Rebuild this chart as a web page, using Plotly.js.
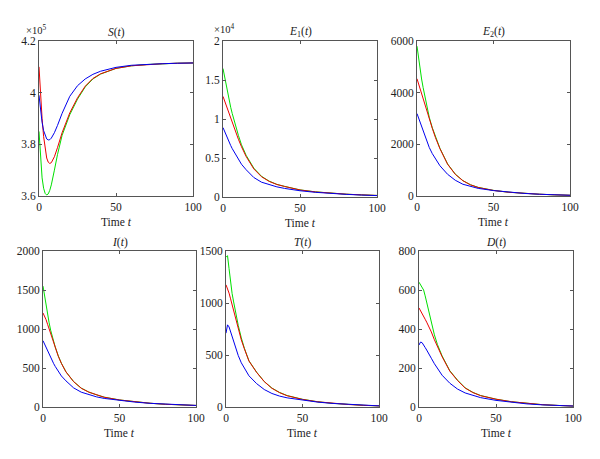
<!DOCTYPE html>
<html>
<head>
<meta charset="utf-8">
<script src="https://cdn.plot.ly/plotly-3.0.1.min.js"></script>
<style>html,body{margin:0;padding:0;background:#fff;}#chart{width:600px;height:459px;}</style>
</head>
<body>
<div id="chart"></div>
<script>
// Shared time grid
var time = [0,1,2,3,4,5,6,7,8,10,12,15,20,25,30,35,40,50,60,70,80,90,100];

// S(t) in units of 1e5
var S_green = [3.85,3.74,3.67,3.63,3.61,3.604,3.608,3.622,3.643,3.70,3.76,3.835,3.915,3.975,4.022,4.053,4.072,4.094,4.104,4.109,4.112,4.114,4.115];
var S_red   = [4.10,3.99,3.90,3.83,3.78,3.747,3.731,3.726,3.729,3.752,3.787,3.845,3.922,3.98,4.025,4.055,4.073,4.094,4.104,4.109,4.112,4.114,4.115];
var S_blue  = [3.99,3.93,3.885,3.853,3.832,3.821,3.817,3.818,3.824,3.845,3.873,3.92,3.986,4.027,4.053,4.071,4.083,4.098,4.106,4.110,4.112,4.114,4.115];

// E1(t) in units of 1e4
var E1_green = [1.647,1.54,1.43,1.33,1.24,1.15,1.07,0.99,0.92,0.79,0.67,0.535,0.37,0.265,0.203,0.162,0.136,0.091,0.066,0.048,0.036,0.027,0.02];
var E1_red   = [1.29,1.235,1.18,1.115,1.05,0.995,0.94,0.89,0.84,0.74,0.645,0.52,0.36,0.26,0.20,0.16,0.135,0.09,0.065,0.048,0.036,0.027,0.02];
var E1_blue  = [0.89,0.84,0.79,0.745,0.70,0.66,0.62,0.585,0.55,0.48,0.42,0.35,0.25,0.19,0.155,0.13,0.11,0.08,0.06,0.045,0.034,0.025,0.018];

// E2(t)
var E2_green = [5800,5330,4900,4530,4200,3880,3580,3300,3050,2640,2290,1845,1240,848,595,434,333,217,146,100,68,45,28];
var E2_red   = [4540,4340,4150,3970,3800,3610,3420,3210,3000,2620,2270,1830,1230,840,590,430,330,215,145,100,68,45,28];
var E2_blue  = [3190,3020,2850,2670,2500,2330,2170,2020,1880,1640,1430,1170,840,610,455,360,295,210,145,100,68,45,28];

// I(t)
var I_green = [1550,1420,1300,1185,1080,985,900,830,768,655,562,452,326,242,191,156,126,90,65,48,35,26,20];
var I_red   = [1205,1165,1120,1060,1000,940,880,820,760,650,560,450,325,240,190,155,125,90,65,48,35,26,20];
var I_blue  = [850,805,760,715,670,630,590,555,520,450,398,335,245,190,155,130,110,85,63,47,35,26,20];

// T(t)
var T_green = [1440,1455,1330,1200,1090,1010,930,855,785,665,565,444,335,245,182,140,110,74,50,35,24,16,11];
var T_red   = [1175,1140,1095,1040,980,920,860,800,745,645,560,442,333,244,180,138,108,73,50,35,24,16,11];
var T_blue  = [710,790,770,725,675,625,580,535,495,425,370,300,225,168,130,105,88,66,47,34,24,16,11];

// D(t)
var D_green = [640,628,618,600,570,535,500,465,430,370,320,262,186,138,98,75,59,40,27,18,12,8,5];
var D_red   = [508,495,480,465,450,435,420,402,385,345,310,258,184,136,97,74,58,40,27,18,12,8,5];
var D_blue  = [318,333,330,320,305,292,280,265,250,222,196,163,122,92,72,58,48,34,24,16,11,7,5];

var panelTitles = ['<i>S</i>(<i>t</i>)','<i>E</i><sub>1</sub>(<i>t</i>)','<i>E</i><sub>2</sub>(<i>t</i>)','<i>I</i>(<i>t</i>)','<i>T</i>(<i>t</i>)','<i>D</i>(<i>t</i>)'];
var xLabel = 'Time <i>t</i>';
var yRanges = [[3.6,4.2],[0,2],[0,6000],[0,2000],[0,1500],[0,800]];
var yDticks = [0.2,0.5,2000,500,500,200];
var xTicks = [0,50,100];

var series = [
  [S_green,S_red,S_blue],
  [E1_green,E1_red,E1_blue],
  [E2_green,E2_red,E2_blue],
  [I_green,I_red,I_blue],
  [T_green,T_red,T_blue],
  [D_green,D_red,D_blue]
];
var colors = ['#00e000','#ee0000','#0000ee'];

// panel boxes in pixels [x0,x1,y0(top),y1(bottom)]
var W = 600, H = 459;
var boxes = [
  [39,193,41,196],[223,377,41,197],[417,570,41,196],
  [43,196,251,407],[226,379,251,407],[419,573,251,407]
];

var FAM = 'Liberation Serif';
var font = {family:FAM, size:11.5, color:'#222'};
var traces = [];
var layout = {
  width:W, height:H, margin:{l:0,r:0,t:0,b:0},
  paper_bgcolor:'#fff', plot_bgcolor:'#fff',
  showlegend:false, font:font, annotations:[]
};

for (var p=0; p<6; p++) {
  var b = boxes[p];
  var xa = 'xaxis'+(p===0?'':(p+1));
  var ya = 'yaxis'+(p===0?'':(p+1));
  var xr = 'x'+(p===0?'':(p+1));
  var yr = 'y'+(p===0?'':(p+1));
  for (var s=0; s<3; s++) {
    traces.push({x:time, y:series[p][s], xaxis:xr, yaxis:yr, type:'scatter', mode:'lines',
      line:{color:colors[s], width:1}, hoverinfo:'skip'});
  }
  var common = {showgrid:false, zeroline:false, showline:true, linecolor:'#555', linewidth:1,
    mirror:'ticks', ticks:'inside', ticklen:3, tickcolor:'#555', tickfont:font, fixedrange:true};
  layout[xa] = Object.assign({}, common, {domain:[b[0]/W,b[1]/W], range:[0,100], tickvals:xTicks, anchor:yr});
  layout[ya] = Object.assign({}, common, {domain:[1-b[3]/H,1-b[2]/H], range:yRanges[p], dtick:yDticks[p], tick0:yRanges[p][0], exponentformat:'none', separatethousands:false, anchor:xr});
  var cx = (b[0]+b[1])/2/W;
  layout.annotations.push({xref:'paper', yref:'paper', x:cx, y:1-(b[2]-9)/H, text:panelTitles[p], showarrow:false, font:{family:FAM,size:11.5,color:'#222'}, xanchor:'center', yanchor:'middle'});
  layout.annotations.push({xref:'paper', yref:'paper', x:cx, y:1-(b[3]+26)/H, text:xLabel, showarrow:false, font:{family:FAM,size:11.5,color:'#222'}, xanchor:'center', yanchor:'middle'});
}
layout.annotations.push({xref:'paper', yref:'paper', x:24/W, y:1-30/H, text:'×10<sup>5</sup>', showarrow:false, font:{family:FAM,size:10.5,color:'#222'}, xanchor:'left', yanchor:'middle'});
layout.annotations.push({xref:'paper', yref:'paper', x:212/W, y:1-28/H, text:'×10<sup>4</sup>', showarrow:false, font:{family:FAM,size:10.5,color:'#222'}, xanchor:'left', yanchor:'middle'});

Plotly.newPlot('chart', traces, layout, {staticPlot:true, displayModeBar:false});
</script>
</body>
</html>
